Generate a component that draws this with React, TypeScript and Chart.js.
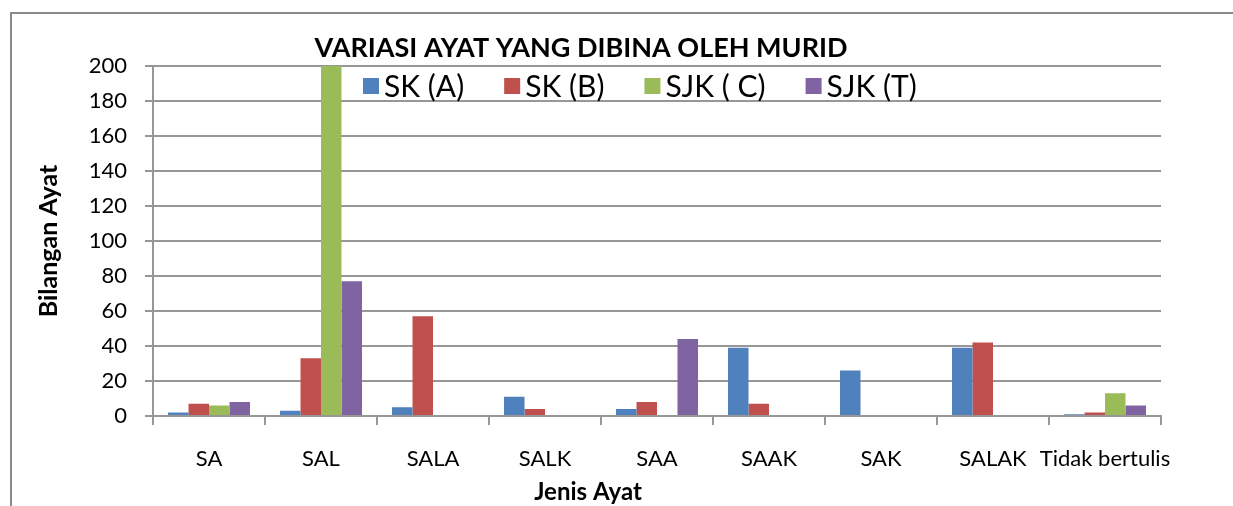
import { useEffect, useRef } from "react";
import { Chart, registerables } from "chart.js";

Chart.register(...registerables);

const chartTitle = "VARIASI AYAT YANG DIBINA OLEH MURID";
const xTitle = "Jenis Ayat";
const yTitle = "Bilangan Ayat";
const categories = ["SA", "SAL", "SALA", "SALK", "SAA", "SAAK", "SAK", "SALAK", "Tidak bertulis"];
const seriesNames = ["SK (A)", "SK (B)", "SJK ( C)", "SJK (T)"];
const seriesColors = ["#4F81BD", "#C0504D", "#9BBB59", "#8064A2"];
const skA = [2, 3, 5, 11, 4, 39, 26, 39, 1];
const skB = [7, 33, 57, 4, 8, 7, 0, 42, 2];
const sjkC = [6, 215, 0, 0, 0, 0, 0, 0, 13];
const sjkT = [8, 77, 0, 0, 44, 0, 0, 0, 6];
const yMin = 0;
const yMax = 200;
const yStep = 20;

const FONT = "Lato";
const GRID = "#979797";

const overlay = {
  id: "overlay",
  beforeDraw(chart: any) {
    const ctx = chart.ctx;
    ctx.save();
    ctx.strokeStyle = "#8a8a8a";
    ctx.lineWidth = 2;
    ctx.beginPath();
    ctx.moveTo(11, chart.height + 5);
    ctx.lineTo(11, 13);
    ctx.lineTo(chart.width + 5, 13);
    ctx.stroke();
    ctx.restore();
  },
  afterDraw(chart: any) {
    const ctx = chart.ctx;
    ctx.save();
    ctx.fillStyle = "#000";
    // title
    ctx.font = `bold 27px ${FONT}`;
    ctx.textAlign = "center";
    ctx.textBaseline = "alphabetic";
    ctx.fillText(chartTitle, 581, 57);
    // x axis title
    ctx.font = `bold 24px ${FONT}`;
    ctx.textBaseline = "middle";
    ctx.fillText(xTitle, 588, 492);
    // legend
    ctx.font = `30px ${FONT}`;
    ctx.textAlign = "left";
    let x = 363;
    chart.data.datasets.forEach((ds: any) => {
      ctx.fillStyle = ds.backgroundColor;
      ctx.fillRect(x, 78, 16, 16);
      ctx.fillStyle = "#000";
      ctx.fillText(ds.label, x + 21, 87);
      x += 21 + ctx.measureText(ds.label).width + 40;
    });
    ctx.restore();
  },
};

export default function App() {
  const ref = useRef<HTMLCanvasElement>(null);
  useEffect(() => {
    if (!ref.current) return;
    Chart.defaults.font.family = FONT;
    const series = [skA, skB, sjkC, sjkT];
    const chart = new Chart(ref.current, {
      type: "bar",
      data: {
        labels: categories,
        datasets: series.map((d, i) => ({
          label: seriesNames[i],
          data: d,
          backgroundColor: seriesColors[i],
          borderWidth: 0,
          categoryPercentage: 0.732,
          barPercentage: 1,
        })),
      },
      options: {
        animation: false,
        responsive: false,
        maintainAspectRatio: false,
        layout: { padding: { left: 10, top: 66, right: 72, bottom: 0 } },
        plugins: {
          legend: { display: false },
          title: { display: false },
          tooltip: { enabled: false },
        },
        scales: {
          x: {
            offset: true,
            grid: {
              offset: true,
              drawOnChartArea: false,
              drawTicks: true,
              tickLength: 9,
              tickColor: GRID,
              lineWidth: 2,
            },
            border: { display: true, color: GRID, width: 2 },
            ticks: {
              autoSkip: false,
              maxRotation: 0,
              minRotation: 0,
              padding: 21,
              color: "#000",
              font: { size: 22, family: FONT },
            },
            afterFit: (s: any) => {
              s.height = 90;
            },
          },
          y: {
            min: yMin,
            max: yMax,
            ticks: {
              stepSize: yStep,
              padding: 18,
              color: "#000",
              font: { size: 22, family: FONT },
            },
            grid: {
              color: GRID,
              lineWidth: 2,
              tickLength: 8,
              tickColor: GRID,
            },
            border: { display: true, color: GRID, width: 2 },
            title: {
              display: true,
              text: yTitle,
              color: "#000",
              font: { size: 25, weight: "bold", family: FONT },
              padding: { top: 24, bottom: 0 },
            },
            afterFit: (s: any) => {
              s.width = 143;
            },
          },
        },
      },
      plugins: [overlay],
    });
    return () => chart.destroy();
  }, []);
  return (
    <div style={{ position: "fixed", left: 0, top: 0, width: 1233, height: 506, background: "#fff" }}>
      <canvas ref={ref} width={1233} height={506} style={{ display: "block" }} />
    </div>
  );
}
